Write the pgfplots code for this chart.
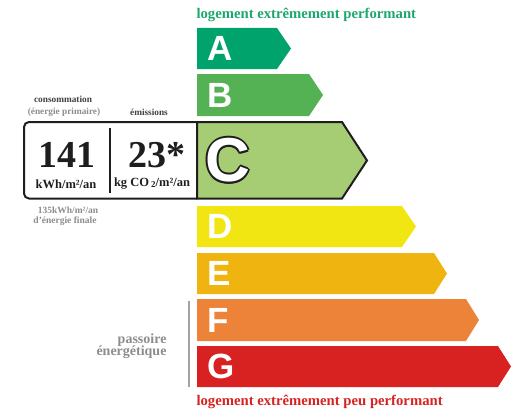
\documentclass[border=0pt]{standalone}
\usepackage{pgfplots}
\pgfplotsset{compat=1.18}
\usepackage{fontspec}
\setmainfont{Liberation Serif}
\newfontfamily\lettersf{Liberation Sans}
\definecolor{cA}{RGB}{0,163,108}
\definecolor{cB}{RGB}{85,178,84}
\definecolor{cC}{RGB}{166,204,116}
\definecolor{cD}{RGB}{241,230,18}
\definecolor{cE}{RGB}{239,180,15}
\definecolor{cF}{RGB}{236,131,56}
\definecolor{cG}{RGB}{215,34,33}
\definecolor{topgreen}{RGB}{27,167,110}
\definecolor{botred}{RGB}{215,34,33}
\definecolor{txtgray}{RGB}{140,140,140}
\definecolor{dark}{RGB}{30,30,30}
\newcommand{\fs}[1]{\fontsize{#1bp}{#1bp}\selectfont}
\begin{document}
\begin{tikzpicture}
\begin{axis}[scale only axis, width=516bp, height=415bp,
  xmin=0, xmax=516, ymin=0, ymax=415, y dir=reverse,
  hide axis, clip=false]
% energy class arrows
\addplot[fill=cA, draw=none] coordinates {(197,28) (277,28) (291,48.5) (277,69) (197,69)} --cycle;
\addplot[fill=cB, draw=none] coordinates {(197,74) (309,74) (323,95) (309,116) (197,116)} --cycle;
\addplot[fill=cD, draw=none] coordinates {(197,206) (402,206) (416,226.5) (402,247) (197,247)} --cycle;
\addplot[fill=cE, draw=none] coordinates {(197,253) (434,253) (447,273.5) (434,294) (197,294)} --cycle;
\addplot[fill=cF, draw=none] coordinates {(197,299) (466,299) (479,320) (466,341) (197,341)} --cycle;
\addplot[fill=cG, draw=none] coordinates {(197,346) (498,346) (511,366.5) (498,387) (197,387)} --cycle;
% left box
\draw[dark, line width=2bp, rounded corners=5bp] (axis cs:197,122) -- (axis cs:24,122) -- (axis cs:24,198.5) -- (axis cs:197,198.5);
\addplot[fill=cC, draw=dark, line width=2bp, line join=miter] coordinates {(197,122) (342,122) (367,160.5) (342,198.5) (197,198.5)} --cycle;
\draw[dark, line width=1.5bp] (axis cs:110,128) -- (axis cs:110,193);
% separator
\draw[txtgray!80, line width=2bp] (axis cs:189,301) -- (axis cs:189,387);
% letters
\node[anchor=west, text=white, font=\lettersf\bfseries\fs{35}] at (axis cs:204,48.5) {A};
\node[anchor=west, text=white, font=\lettersf\bfseries\fs{35}] at (axis cs:204,95) {B};
\node[anchor=west, text=white, font=\lettersf\bfseries\fs{35}] at (axis cs:204,226.5) {D};
\node[anchor=west, text=white, font=\lettersf\bfseries\fs{35}] at (axis cs:204,273.5) {E};
\node[anchor=west, text=white, font=\lettersf\bfseries\fs{35}] at (axis cs:204,320) {F};
\node[anchor=west, text=white, font=\lettersf\bfseries\fs{35}] at (axis cs:204,366.5) {G};
\node[anchor=west, text=dark, font=\lettersf\bfseries\fs{62}] at ([shift={(2bp,0)}]axis cs:202,160.5) {C};
\node[anchor=west, text=dark, font=\lettersf\bfseries\fs{62}] at ([shift={(-2bp,0)}]axis cs:202,160.5) {C};
\node[anchor=west, text=dark, font=\lettersf\bfseries\fs{62}] at ([shift={(0,2bp)}]axis cs:202,160.5) {C};
\node[anchor=west, text=dark, font=\lettersf\bfseries\fs{62}] at ([shift={(0,-2bp)}]axis cs:202,160.5) {C};
\node[anchor=west, text=dark, font=\lettersf\bfseries\fs{62}] at ([shift={(1.41bp,1.41bp)}]axis cs:202,160.5) {C};
\node[anchor=west, text=dark, font=\lettersf\bfseries\fs{62}] at ([shift={(-1.41bp,1.41bp)}]axis cs:202,160.5) {C};
\node[anchor=west, text=dark, font=\lettersf\bfseries\fs{62}] at ([shift={(1.41bp,-1.41bp)}]axis cs:202,160.5) {C};
\node[anchor=west, text=dark, font=\lettersf\bfseries\fs{62}] at ([shift={(-1.41bp,-1.41bp)}]axis cs:202,160.5) {C};
\node[anchor=west, text=white, font=\lettersf\bfseries\fs{62}] at (axis cs:202,160.5) {C};
% texts
\node[anchor=west, text=topgreen, font=\bfseries\fs{14.7}] at (axis cs:193,15) {logement extrêmement performant};
\node[anchor=west, text=botred, font=\bfseries\fs{14.7}] at (axis cs:193,402) {logement extrêmement peu performant};
\node[text=dark!85, font=\bfseries\fs{9.3}] at (axis cs:63,99) {consommation};
\node[text=txtgray, font=\bfseries\fs{9.3}] at (axis cs:64,112) {(énergie primaire)};
\node[text=dark!85, font=\bfseries\fs{9.3}] at (axis cs:149,112) {émissions};
\node[text=dark, font=\bfseries\fs{38}] at (axis cs:67,155) {141};
\node[text=dark, font=\bfseries\fs{38}] at (axis cs:157,155) {23*};
\node[text=dark, font=\bfseries\fs{12.5}] at (axis cs:66,184) {kWh/m²/an};
\node[text=dark, font=\bfseries\fs{12.5}] at (axis cs:152,184) {kg CO\,\raisebox{-0.1ex}{\fs{9}2}/m²/an};
\node[text=txtgray, font=\bfseries\fs{9.5}] at (axis cs:68,210) {135kWh/m²/an};
\node[text=txtgray, font=\bfseries\fs{9.5}] at (axis cs:65,221) {d’énergie finale};
\node[anchor=east, align=right, text=txtgray, font=\bfseries\fs{14}] at (axis cs:170,346.5) {passoire\\[-2bp]énergétique};
\end{axis}
\pgfresetboundingbox
\path (0,0) rectangle (516bp,415bp);
\end{tikzpicture}
\end{document}
